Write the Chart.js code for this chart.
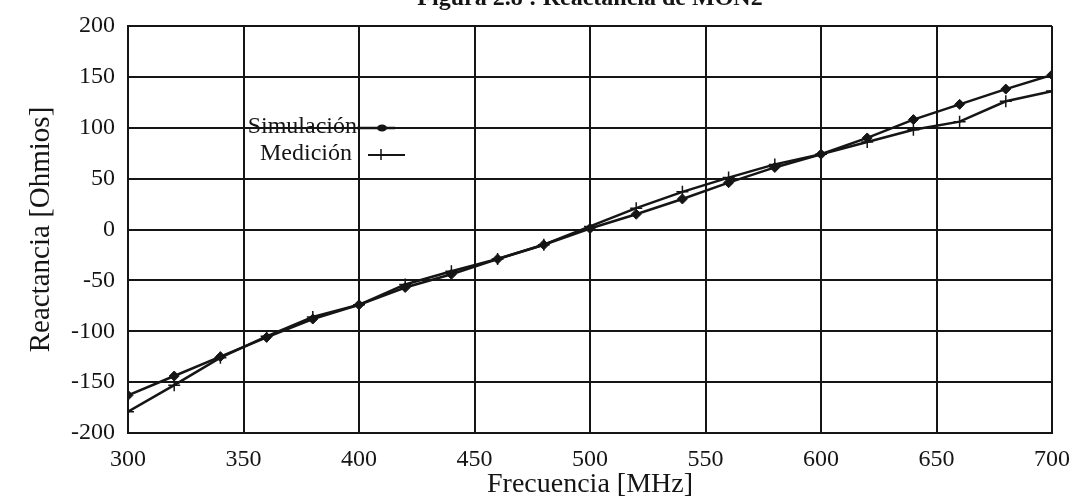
<!DOCTYPE html>
<html>
<head>
<meta charset="utf-8">
<script src="https://cdn.jsdelivr.net/npm/chart.js@4.4.0/dist/chart.umd.min.js"></script>
<style>
html,body{margin:0;padding:0;background:#fff;overflow:hidden;}
#wrap{width:1077px;height:501px;position:relative;}
</style>
</head>
<body>
<div id="wrap"><canvas id="c" width="1077" height="501"></canvas></div>
<script>
const titleText = 'Figura 2.8 : Reactancia de MON2';
const xTitle = 'Frecuencia [MHz]';
const yTitle = 'Reactancia [Ohmios]';
const freq = [300,320,340,360,380,400,420,440,460,480,500,520,540,560,580,600,620,640,660,680,700];
const simulacion = [-163,-144,-125,-106,-88,-74,-57,-44,-29,-15,1,15,30,46,61,74,90,108,123,138,152];
const medicion = [-179,-153,-126,-105,-86,-74,-54,-41,-29,-15,3,21,37,51,64,74,86,98,106,126,136];
const xTickValues = [300,350,400,450,500,550,600,650,700];
const yTickValues = [-200,-150,-100,-50,0,50,100,150,200];
const seriesNames = ['Simulación','Medición'];

const FONT = '"Liberation Serif", "Times New Roman", serif';
const INK = '#151515';

const titlePlugin = {
  id: 'cutTitle',
  afterDraw(chart) {
    const ctx = chart.ctx, a = chart.chartArea;
    ctx.save();
    ctx.fillStyle = INK;
    ctx.font = 'bold 24px ' + FONT;
    ctx.textAlign = 'center';
    ctx.textBaseline = 'alphabetic';
    ctx.fillText(titleText, (a.left + a.right) / 2, 5);
    ctx.restore();
  }
};

const legendPlugin = {
  id: 'inLegend',
  afterDatasetsDraw(chart) {
    const ctx = chart.ctx, a = chart.chartArea;
    ctx.save();
    ctx.font = '24px ' + FONT;
    ctx.fillStyle = INK;
    ctx.textAlign = 'right';
    ctx.textBaseline = 'middle';
    // Simulación
    let tx = a.left + 229, ty = a.top + 101;
    ctx.fillText(seriesNames[0], tx, ty);
    ctx.strokeStyle = INK; ctx.lineWidth = 2.5;
    ctx.beginPath(); ctx.moveTo(tx, ty + 1); ctx.lineTo(tx + 38, ty + 1); ctx.stroke();
    ctx.beginPath();
    ctx.ellipse(tx + 25, ty + 1, 5, 3.5, 0, 0, Math.PI * 2);
    ctx.fill();
    // Medición
    tx = a.left + 224; ty = a.top + 128;
    ctx.fillText(seriesNames[1], tx, ty);
    ctx.lineWidth = 2;
    ctx.beginPath(); ctx.moveTo(tx + 16, ty + 1); ctx.lineTo(tx + 53, ty + 1); ctx.stroke();
    ctx.lineWidth = 1.5;
    ctx.beginPath(); ctx.moveTo(tx + 29, ty - 5); ctx.lineTo(tx + 29, ty + 6); ctx.stroke();
    ctx.restore();
  }
};

new Chart(document.getElementById('c'), {
  type: 'line',
  data: {
    datasets: [
      {
        label: seriesNames[0],
        data: freq.map((f, i) => ({x: f, y: simulacion[i]})),
        borderColor: INK, backgroundColor: INK,
        borderWidth: 2.5, pointStyle: 'rectRot', pointRadius: 5,
        pointBorderWidth: 1, tension: 0
      },
      {
        label: seriesNames[1],
        data: freq.map((f, i) => ({x: f, y: medicion[i]})),
        borderColor: INK, backgroundColor: INK,
        borderWidth: 2.5, pointStyle: 'cross', pointRadius: 6,
        pointBorderWidth: 1.5, tension: 0
      }
    ]
  },
  options: {
    responsive: false,
    animation: false,
    layout: { padding: { left: 0, right: 25, top: 26, bottom: 0 } },
    plugins: { legend: { display: false }, title: { display: false }, tooltip: { enabled: false } },
    scales: {
      x: {
        type: 'linear', min: 300, max: 700,
        afterBuildTicks(s) { s.ticks = xTickValues.map(v => ({value: v})); },
        afterFit(s) { s.height = 68; s.paddingLeft = 0; s.paddingRight = 0; },
        grid: { color: INK, lineWidth: 2, drawTicks: false },
        border: { color: INK, width: 2 },
        ticks: { color: INK, font: { family: FONT, size: 24 }, padding: 12, maxRotation: 0 },
        title: { display: true, text: xTitle, color: INK, font: { family: FONT, size: 28 }, padding: { top: 2, bottom: 0 } }
      },
      y: {
        type: 'linear', min: -200, max: 200,
        afterBuildTicks(s) { s.ticks = yTickValues.map(v => ({value: v})); },
        afterFit(s) { s.width = 128; s.paddingTop = 0; s.paddingBottom = 0; },
        grid: { color: INK, lineWidth: 2, drawTicks: false },
        border: { color: INK, width: 2 },
        ticks: { color: INK, font: { family: FONT, size: 24 }, padding: 13 },
        title: { display: true, text: yTitle, color: INK, font: { family: FONT, size: 29 }, padding: { top: 24, bottom: 0 } }
      }
    }
  },
  plugins: [titlePlugin, legendPlugin]
});
</script>
</body>
</html>
